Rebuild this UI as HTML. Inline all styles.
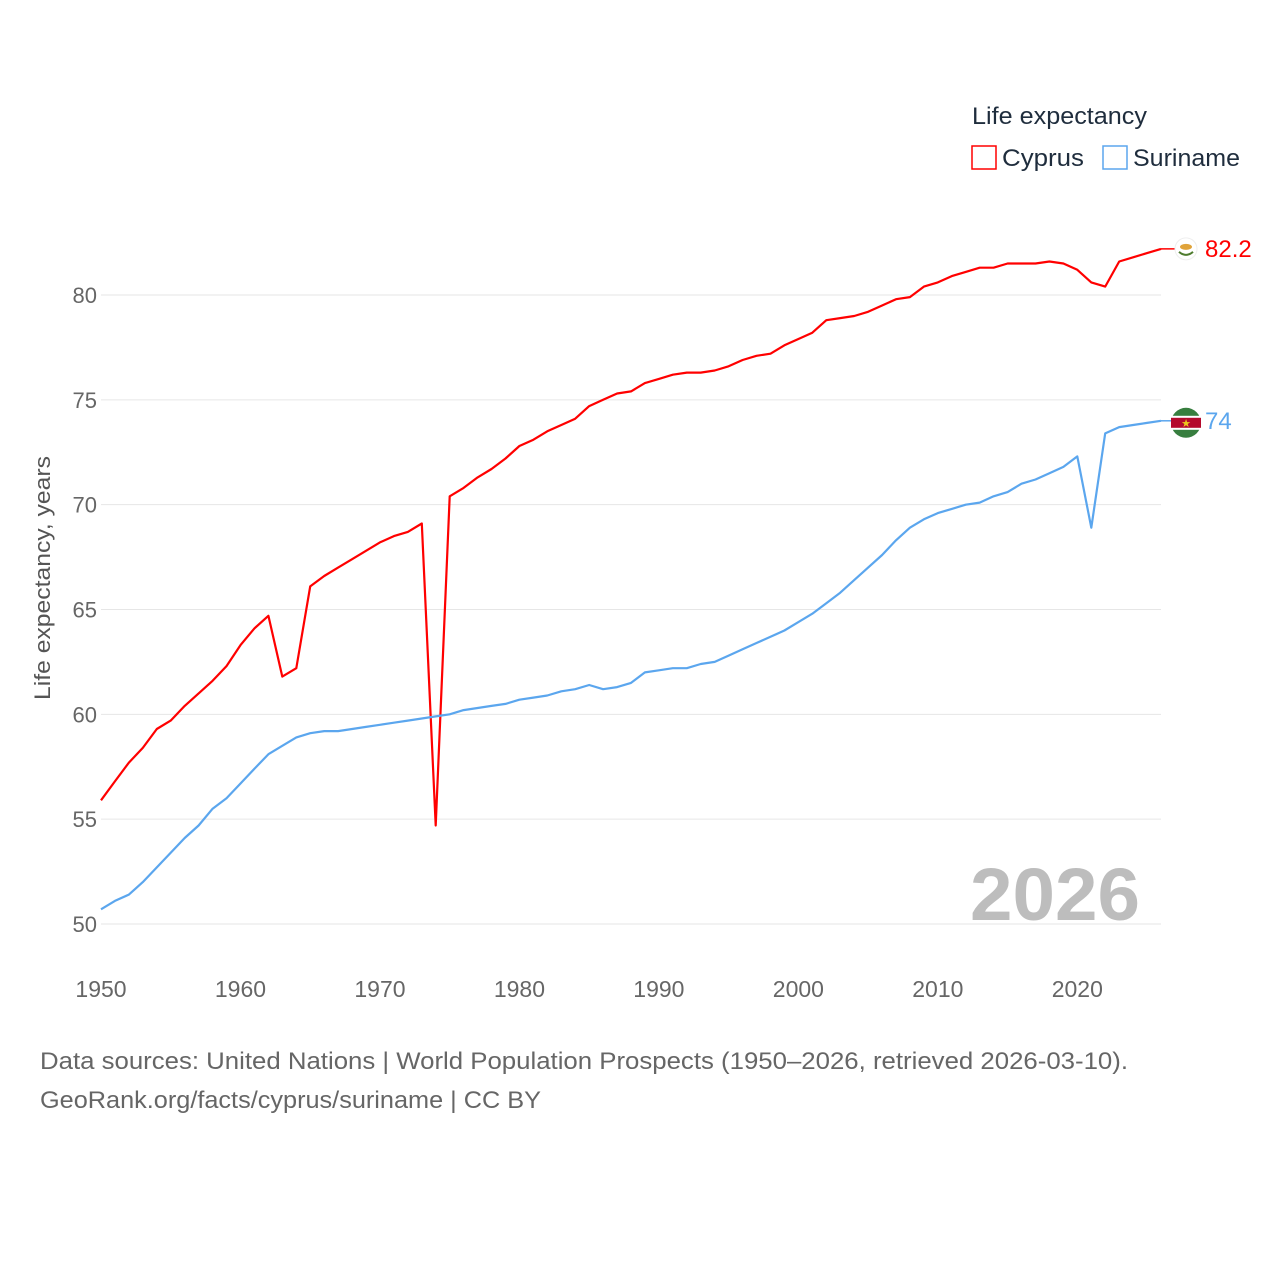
<!DOCTYPE html>
<html><head><meta charset="utf-8">
<style>
html,body{margin:0;padding:0;background:#fff;width:1280px;height:1280px;overflow:hidden}
text{font-family:"Liberation Sans",sans-serif}
</style></head>
<body>
<svg id="chart" width="1280" height="1280" xmlns="http://www.w3.org/2000/svg">
<g id="grid"></g>
<g id="yticks"></g>
<g id="xticks"></g>
<text x="1140" y="920" text-anchor="end" font-size="74" font-weight="bold" fill="#bdbdbd" textLength="170" lengthAdjust="spacingAndGlyphs">2026</text>
<text transform="translate(50,578) rotate(-90)" text-anchor="middle" font-size="22" fill="#555" textLength="244" lengthAdjust="spacingAndGlyphs">Life expectancy, years</text>
<g id="series"></g>
<g id="ends"></g>
<g>
<text x="972" y="124" font-size="24" fill="#1f2d3d" textLength="175" lengthAdjust="spacingAndGlyphs">Life expectancy</text>
<rect x="972" y="146" width="24" height="23" fill="none" stroke="#ff0000" stroke-width="1.5"/>
<text x="1002" y="166" font-size="24" fill="#1f2d3d" textLength="82" lengthAdjust="spacingAndGlyphs">Cyprus</text>
<rect x="1103" y="146" width="24" height="23" fill="none" stroke="#5ba6ee" stroke-width="1.5"/>
<text x="1133" y="166" font-size="24" fill="#1f2d3d" textLength="107" lengthAdjust="spacingAndGlyphs">Suriname</text>
</g>
<text x="40" y="1069" font-size="24" fill="#666" textLength="1088" lengthAdjust="spacingAndGlyphs">Data sources: United Nations | World Population Prospects (1950–2026, retrieved 2026-03-10).</text>
<text x="40" y="1108" font-size="24" fill="#666" textLength="501" lengthAdjust="spacingAndGlyphs">GeoRank.org/facts/cyprus/suriname | CC BY</text>
</svg>
<script>
const years = []; for (let y = 1950; y <= 2026; y++) years.push(y);
const cyprus = [55.9,56.8,57.7,58.4,59.3,59.7,60.4,61.0,61.6,62.3,63.3,64.1,64.7,61.8,62.2,66.1,66.6,67.0,67.4,67.8,68.2,68.5,68.7,69.1,54.7,70.4,70.8,71.3,71.7,72.2,72.8,73.1,73.5,73.8,74.1,74.7,75.0,75.3,75.4,75.8,76.0,76.2,76.3,76.3,76.4,76.6,76.9,77.1,77.2,77.6,77.9,78.2,78.8,78.9,79.0,79.2,79.5,79.8,79.9,80.4,80.6,80.9,81.1,81.3,81.3,81.5,81.5,81.5,81.6,81.5,81.2,80.6,80.4,81.6,81.8,82.0,82.2];
const suriname = [50.7,51.1,51.4,52.0,52.7,53.4,54.1,54.7,55.5,56.0,56.7,57.4,58.1,58.5,58.9,59.1,59.2,59.2,59.3,59.4,59.5,59.6,59.7,59.8,59.9,60.0,60.2,60.3,60.4,60.5,60.7,60.8,60.9,61.1,61.2,61.4,61.2,61.3,61.5,62.0,62.1,62.2,62.2,62.4,62.5,62.8,63.1,63.4,63.7,64.0,64.4,64.8,65.3,65.8,66.4,67.0,67.6,68.3,68.9,69.3,69.6,69.8,70.0,70.1,70.4,70.6,71.0,71.2,71.5,71.8,72.3,68.9,73.4,73.7,73.8,73.9,74.0];
const yTicks = [50,55,60,65,70,75,80];
const xTicks = [1950,1960,1970,1980,1990,2000,2010,2020];
const endLabels = ["82.2","74"];

const NS = "http://www.w3.org/2000/svg";
const xs = v => 101 + (v - 1950) * (1161 - 101) / 76;
const ys = v => 924 - (v - 50) * (924 - 295) / 30;
function mk(tag, attrs, parent, txt){const e=document.createElementNS(NS,tag);for(const k in attrs)e.setAttribute(k,attrs[k]);if(txt!==undefined)e.textContent=txt;parent.appendChild(e);return e;}
const grid=document.getElementById('grid'), yt=document.getElementById('yticks'), xt=document.getElementById('xticks');
yTicks.forEach(t=>{
  const l=mk('line',{x1:101,x2:1161,y1:ys(t),y2:ys(t),stroke:'#e6e6e6','stroke-width':1},grid);
  
  
  const tx=mk('text',{x:97,y:ys(t)+8,'text-anchor':'end','font-size':22,fill:'#666'},yt,String(t));
  
  
});
xTicks.forEach(t=>{
  const tx=mk('text',{x:xs(t),y:997,'text-anchor':'middle','font-size':23,fill:'#666'},xt,String(t));
  
  
});
const sg=document.getElementById('series');
[[cyprus,'#ff0000','cyprus-line'],[suriname,'#5ba6ee','suriname-line']].forEach(([d,c,n])=>{
  const p=mk('path',{d:d.map((v,i)=>(i?'L':'M')+xs(years[i]).toFixed(1)+','+ys(v).toFixed(1)).join(''),fill:'none',stroke:c,'stroke-width':2.2,'stroke-linejoin':'round'},sg);
  
  
});
const eg=document.getElementById('ends');
const last=years.length-1;
let cy=ys(cyprus[last]);
let l1=mk('line',{x1:xs(2026),x2:1176,y1:cy,y2:cy,stroke:'#ff0000','stroke-width':1.5},eg);


let f1=mk('circle',{cx:1186,cy:cy,r:11,fill:'#fff',stroke:'#eee'},eg);


let f1b=mk('ellipse',{cx:1186,cy:cy-2,rx:6,ry:3,fill:'#e0a33a'},eg);


let f1c=mk('path',{d:`M1179,${cy+3} Q1186,${cy+9} 1193,${cy+3}`,fill:'none',stroke:'#4e7c2e','stroke-width':2},eg);


let t1=mk('text',{x:1205,y:cy+8,'font-size':24,fill:'#ff0000'},eg,endLabels[0]);


let sy=ys(suriname[last]);
let l2=mk('line',{x1:xs(2026),x2:1176,y1:sy,y2:sy,stroke:'#5ba6ee','stroke-width':1.5},eg);


let f2=mk('circle',{cx:1186,cy:sy+2,r:15,fill:'#377e3f'},eg);


let f2w=mk('rect',{x:1171,y:sy-5,width:30,height:14,fill:'#fff'},eg);


let f2r=mk('rect',{x:1171,y:sy-3,width:30,height:10,fill:'#b40a2d'},eg);


let f2s=mk('text',{x:1186,y:sy+6,'text-anchor':'middle','font-size':11,fill:'#ecc81d'},eg,'★');


let t2=mk('text',{x:1205,y:sy+8,'font-size':24,fill:'#5ba6ee'},eg,endLabels[1]);


</script>
</body></html>
